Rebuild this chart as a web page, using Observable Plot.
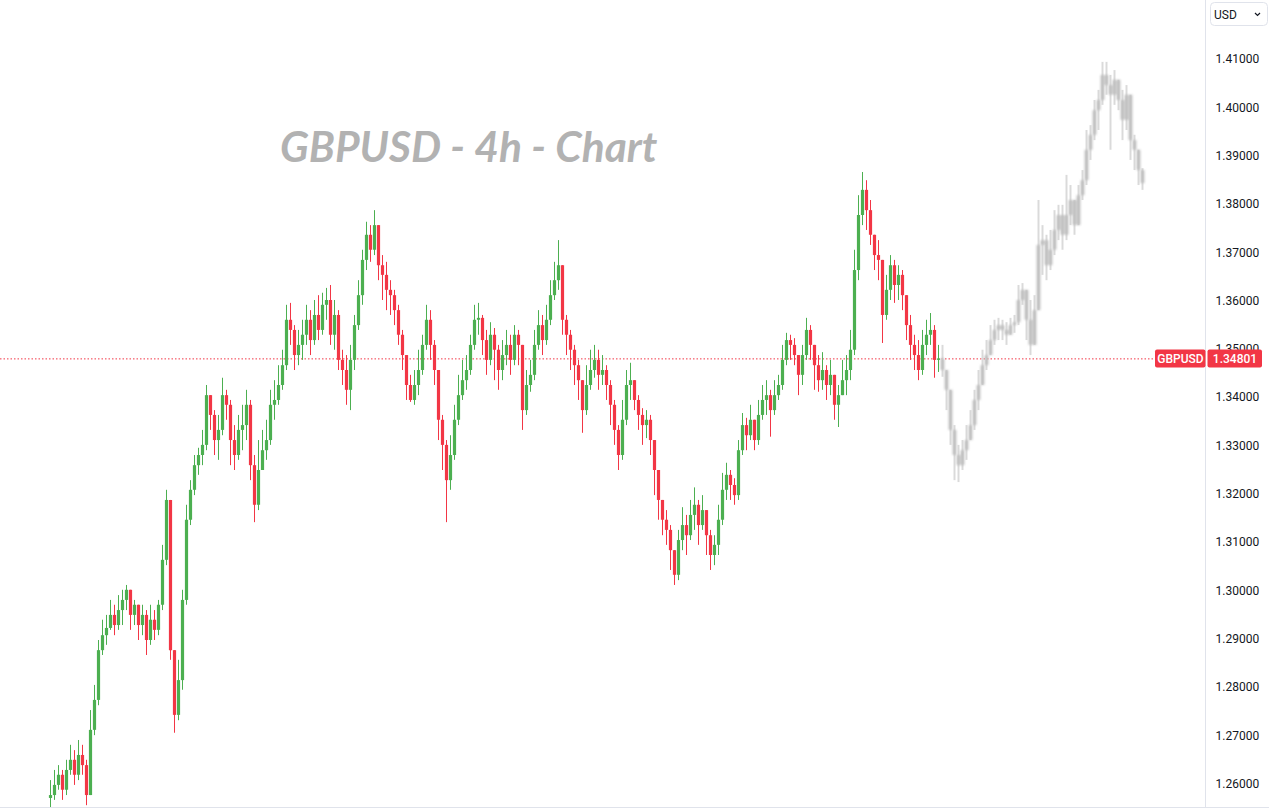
<!DOCTYPE html>
<html>
<head>
<meta charset="utf-8">
<script src="https://cdn.jsdelivr.net/npm/d3@7"></script>
<script src="https://cdn.jsdelivr.net/npm/@observablehq/plot@0.6"></script>
<style>
html, body { margin: 0; padding: 0; background: #ffffff; }
#chart { position: relative; width: 1269px; height: 808px; overflow: hidden; }
#chart svg { display: block; overflow: visible; }
</style>
</head>
<body>
<div id="chart"></div>
<script>
// ---------- data (GBPUSD, 4h candles) ----------
const symbol = "GBPUSD";
const currency = "USD";
const titleText = "GBPUSD - 4h - Chart";
const lastPrice = 1.34801;
const firstOpen = 1.2570;
const yTickValues = [1.26, 1.27, 1.28, 1.29, 1.30, 1.31, 1.32, 1.33, 1.34, 1.35, 1.36, 1.37, 1.38, 1.39, 1.40, 1.41];

const closes = [
  1.2576,1.2597,1.2618,1.2587,1.2628,1.2649,1.2618,1.2659,1.2638,1.2576,
  1.2711,1.2773,1.2876,1.2907,1.2922,1.2949,1.2928,1.2959,1.2980,1.3001,
  1.2949,1.2970,1.2928,1.2949,1.2897,1.2939,1.2918,1.2970,1.3063,1.3187,
  1.2876,1.2742,1.2814,1.2980,1.3146,1.3208,1.3259,1.3280,1.3301,1.3404,
  1.3363,1.3311,1.3332,1.3404,1.3384,1.3311,1.3280,1.3332,1.3342,1.3384,
  1.3259,1.3177,1.3249,1.3290,1.3311,1.3384,1.3394,1.3425,1.3466,1.3560,
  1.3539,1.3487,1.3508,1.3529,1.3560,1.3518,1.3570,1.3539,1.3591,1.3601,
  1.3529,1.3570,1.3477,1.3456,1.3415,1.3477,1.3549,1.3611,1.3684,1.3736,
  1.3705,1.3756,1.3673,1.3653,1.3622,1.3611,1.3580,1.3529,1.3487,1.3425,
  1.3394,1.3425,1.3456,1.3508,1.3560,1.3508,1.3456,1.3353,1.3301,1.3228,
  1.3280,1.3353,1.3404,1.3435,1.3456,1.3508,1.3560,1.3564,1.3518,1.3477,
  1.3529,1.3498,1.3456,1.3487,1.3508,1.3477,1.3529,1.3508,1.3373,1.3425,
  1.3446,1.3508,1.3549,1.3518,1.3560,1.3611,1.3642,1.3673,1.3560,1.3529,
  1.3498,1.3466,1.3435,1.3373,1.3425,1.3456,1.3477,1.3446,1.3456,1.3425,
  1.3384,1.3332,1.3280,1.3353,1.3425,1.3435,1.3394,1.3363,1.3342,1.3353,
  1.3311,1.3249,1.3187,1.3146,1.3125,1.3083,1.3032,1.3104,1.3135,1.3114,
  1.3156,1.3177,1.3135,1.3166,1.3114,1.3073,1.3094,1.3146,1.3208,1.3239,
  1.3218,1.3197,1.3290,1.3342,1.3321,1.3353,1.3311,1.3363,1.3394,1.3404,
  1.3373,1.3404,1.3425,1.3477,1.3518,1.3508,1.3487,1.3446,1.3487,1.3539,
  1.3508,1.3466,1.3435,1.3456,1.3425,1.3446,1.3384,1.3404,1.3435,1.3456,
  1.3498,1.3663,1.3777,1.3829,1.3787,1.3736,1.3694,1.3684,1.3570,1.3622,
  1.3673,1.3632,1.3653,1.3611,1.3549,1.3508,1.3487,1.3456,1.3508,1.3529,
  1.3539,1.3477,1.34801
];
const highs = [
  1.2607,1.2628,1.2638,1.2628,1.2649,1.2680,1.2669,1.2690,1.2680,1.2649,
  1.2752,1.2804,1.2897,1.2939,1.2949,1.2980,1.2970,1.2990,1.3001,1.3011,
  1.3001,1.2980,1.2970,1.2970,1.2959,1.2970,1.2959,1.2980,1.3094,1.3208,
  1.3187,1.2876,1.2856,1.3001,1.3177,1.3228,1.3280,1.3295,1.3332,1.3425,
  1.3404,1.3373,1.3363,1.3440,1.3415,1.3394,1.3342,1.3363,1.3384,1.3415,
  1.3394,1.3280,1.3311,1.3332,1.3353,1.3415,1.3435,1.3466,1.3498,1.3591,
  1.3595,1.3549,1.3539,1.3560,1.3591,1.3580,1.3601,1.3611,1.3616,1.3626,
  1.3632,1.3601,1.3580,1.3498,1.3487,1.3508,1.3570,1.3642,1.3705,1.3763,
  1.3756,1.3787,1.3746,1.3694,1.3680,1.3642,1.3622,1.3591,1.3539,1.3487,
  1.3446,1.3456,1.3498,1.3529,1.3591,1.3580,1.3518,1.3456,1.3363,1.3311,
  1.3321,1.3384,1.3446,1.3477,1.3487,1.3529,1.3591,1.3595,1.3570,1.3539,
  1.3555,1.3543,1.3508,1.3518,1.3539,1.3529,1.3549,1.3539,1.3508,1.3456,
  1.3477,1.3539,1.3580,1.3570,1.3591,1.3642,1.3680,1.3725,1.3673,1.3570,
  1.3539,1.3508,1.3477,1.3435,1.3466,1.3498,1.3508,1.3498,1.3487,1.3466,
  1.3435,1.3394,1.3342,1.3394,1.3456,1.3471,1.3435,1.3404,1.3377,1.3373,
  1.3363,1.3311,1.3249,1.3187,1.3166,1.3135,1.3083,1.3125,1.3172,1.3156,
  1.3187,1.3213,1.3187,1.3197,1.3166,1.3125,1.3114,1.3177,1.3243,1.3264,
  1.3249,1.3232,1.3311,1.3367,1.3357,1.3384,1.3353,1.3394,1.3425,1.3435,
  1.3415,1.3435,1.3446,1.3508,1.3533,1.3529,1.3522,1.3487,1.3508,1.3564,
  1.3549,1.3498,1.3487,1.3493,1.3466,1.3477,1.3446,1.3425,1.3477,1.3487,
  1.3539,1.3705,1.3818,1.3866,1.3849,1.3808,1.3736,1.3725,1.3684,1.3653,
  1.3694,1.3684,1.3673,1.3663,1.3611,1.3570,1.3529,1.3518,1.3539,1.3560,
  1.3574,1.3549,1.3508
];
const lows = [
  1.2551,1.2566,1.2587,1.2566,1.2576,1.2618,1.2597,1.2607,1.2618,1.2555,
  1.2576,1.2700,1.2762,1.2866,1.2887,1.2918,1.2907,1.2918,1.2928,1.2959,
  1.2918,1.2928,1.2897,1.2907,1.2866,1.2887,1.2897,1.2907,1.2959,1.3052,
  1.2856,1.2705,1.2731,1.2794,1.2970,1.3135,1.3197,1.3239,1.3259,1.3290,
  1.3332,1.3280,1.3270,1.3321,1.3353,1.3259,1.3249,1.3270,1.3290,1.3311,
  1.3228,1.3141,1.3166,1.3249,1.3270,1.3301,1.3353,1.3384,1.3415,1.3456,
  1.3508,1.3456,1.3466,1.3477,1.3508,1.3487,1.3508,1.3518,1.3529,1.3560,
  1.3508,1.3498,1.3456,1.3425,1.3384,1.3373,1.3456,1.3539,1.3591,1.3663,
  1.3680,1.3694,1.3642,1.3601,1.3580,1.3570,1.3549,1.3508,1.3456,1.3394,
  1.3390,1.3384,1.3404,1.3446,1.3498,1.3477,1.3425,1.3311,1.3249,1.3141,
  1.3208,1.3270,1.3342,1.3394,1.3415,1.3446,1.3498,1.3529,1.3487,1.3446,
  1.3466,1.3435,1.3415,1.3435,1.3466,1.3446,1.3466,1.3466,1.3332,1.3363,
  1.3411,1.3435,1.3498,1.3487,1.3508,1.3549,1.3601,1.3622,1.3529,1.3487,
  1.3456,1.3425,1.3394,1.3326,1.3363,1.3415,1.3440,1.3415,1.3425,1.3394,
  1.3342,1.3301,1.3249,1.3270,1.3342,1.3394,1.3373,1.3332,1.3301,1.3315,
  1.3280,1.3197,1.3146,1.3114,1.3094,1.3042,1.3011,1.3021,1.3083,1.3073,
  1.3104,1.3125,1.3094,1.3125,1.3073,1.3042,1.3052,1.3073,1.3135,1.3187,
  1.3187,1.3177,1.3187,1.3280,1.3290,1.3311,1.3290,1.3301,1.3353,1.3363,
  1.3318,1.3363,1.3394,1.3415,1.3466,1.3477,1.3466,1.3404,1.3425,1.3477,
  1.3477,1.3415,1.3411,1.3415,1.3394,1.3404,1.3353,1.3338,1.3404,1.3404,
  1.3435,1.3487,1.3642,1.3756,1.3746,1.3715,1.3663,1.3642,1.3512,1.3560,
  1.3601,1.3595,1.3601,1.3580,1.3518,1.3477,1.3456,1.3435,1.3446,1.3487,
  1.3508,1.3440,1.3452
];

// projected (ghost) path shown in grey after the last candle
const projCloses = [
  1.3456,1.3415,1.3332,1.3280,1.3259,1.3290,1.3311,1.3342,1.3394,1.3425,
  1.3466,1.3487,1.3518,1.3539,1.3549,1.3539,1.3529,1.3549,1.3555,1.3601,
  1.3622,1.3560,1.3508,1.3580,1.3715,1.3725,1.3673,1.3705,1.3746,1.3777,
  1.3736,1.3777,1.3808,1.3756,1.3818,1.3849,1.3912,1.3943,1.3994,1.4015,
  1.4067,1.4046,1.4026,1.4057,1.4015,1.3974,1.4026,1.3932,1.3912,1.3870,
  1.3843
];
const projHighs = [
  1.3508,1.3446,1.3415,1.3342,1.3301,1.3311,1.3342,1.3373,1.3415,1.3456,
  1.3498,1.3518,1.3549,1.3560,1.3564,1.3560,1.3555,1.3564,1.3570,1.3632,
  1.3636,1.3611,1.3601,1.3611,1.3808,1.3756,1.3736,1.3746,1.3787,1.3798,
  1.3798,1.3860,1.3839,1.3808,1.3839,1.3870,1.3953,1.3963,1.4015,1.4036,
  1.4094,1.4094,1.4067,1.4077,1.4057,1.4036,1.4046,1.4015,1.3943,1.3891,
  1.3874
];
const projLows = [
  1.3442,1.3373,1.3301,1.3228,1.3224,1.3249,1.3270,1.3311,1.3332,1.3373,
  1.3425,1.3456,1.3487,1.3508,1.3518,1.3518,1.3508,1.3529,1.3533,1.3549,
  1.3591,1.3518,1.3487,1.3529,1.3580,1.3653,1.3642,1.3663,1.3694,1.3725,
  1.3705,1.3725,1.3756,1.3736,1.3777,1.3808,1.3839,1.3891,1.3932,1.3953,
  1.4005,1.4026,1.3912,1.4005,1.3994,1.3932,1.3953,1.3891,1.3870,1.3839,
  1.3829
];

// ---------- build candle tables ----------
const UP = "#4caf50", DOWN = "#f23645";
const candles = closes.map((c, i) => {
  const o = i === 0 ? firstOpen : closes[i - 1];
  return { i, open: o, close: c, high: Math.max(highs[i], o, c), low: Math.min(lows[i], o, c), up: c >= o };
});
const n = closes.length;
const proj = projCloses.map((c, k) => {
  const o = k === 0 ? closes[n - 1] : projCloses[k - 1];
  return { i: n + k, open: o, close: c, high: Math.max(projHighs[k], o, c), low: Math.min(projLows[k], o, c) };
});

const W = 1269, H = 808, MR = 64;

const chart = Plot.plot({
  width: W,
  height: H,
  marginLeft: 0,
  marginRight: MR,
  marginTop: 0,
  marginBottom: 0,
  style: { background: "#ffffff", fontFamily: "Roboto, 'Liberation Sans', sans-serif" },
  x: { domain: [-12.5, 288.75], axis: null },
  y: { domain: [1.25492, 1.42221], axis: null },
  marks: [
    Plot.frame({ anchor: "right", stroke: "#e0e3eb" }),
    Plot.ruleY([lastPrice], { stroke: DOWN, strokeWidth: 1, strokeDasharray: "1.5,2" }),
    Plot.ruleX(proj, { x: "i", y1: "low", y2: "high", stroke: "#d3d3d3", strokeWidth: 2, strokeOpacity: 0.85, imageFilter: "blur(0.6px)" }),
    Plot.ruleX(proj, { x: "i", y1: "open", y2: "close", stroke: "#bdbdbd", strokeWidth: 4, strokeOpacity: 0.85, imageFilter: "blur(0.8px)" }),
    Plot.ruleX(candles, { x: "i", y1: "low", y2: "high", stroke: d => d.up ? UP : DOWN, strokeWidth: 1 }),
    Plot.ruleX(candles, { x: "i", y1: "open", y2: "close", stroke: d => d.up ? UP : DOWN, strokeWidth: 3.2 }),
    Plot.axisY(yTickValues, {
      anchor: "right",
      tickSize: 0,
      tickPadding: 10,
      tickFormat: d => d.toFixed(5),
      fontSize: 12,
      fill: "#131722",
      label: null
    })
  ]
});

document.getElementById("chart").appendChild(chart);

// ---------- overlays drawn into the same SVG ----------
const svg = d3.select(chart);
const yS = chart.scale("y");
const yLast = yS.apply(lastPrice);

// bottom border
svg.append("line").attr("x1", 0).attr("x2", W).attr("y1", H - 0.5).attr("y2", H - 0.5)
  .attr("stroke", "#e0e3eb").attr("stroke-width", 1);

// title
svg.append("text")
  .attr("x", 280).attr("y", 162)
  .attr("text-anchor", "start")
  .attr("font-family", "Lato, 'Open Sans', sans-serif")
  .attr("font-weight", "bold").attr("font-style", "italic")
  .attr("font-size", 42.5)
  .attr("fill", "#b2b2b2")
  .text(titleText);

// symbol + last price labels
const lab = svg.append("g").attr("font-family", "Roboto, 'Liberation Sans', sans-serif").attr("font-size", 12);
lab.append("rect").attr("x", 1155).attr("y", yLast - 9).attr("width", 50.5).attr("height", 18).attr("rx", 2).attr("fill", DOWN);
lab.append("text").attr("x", 1180.5).attr("y", yLast).attr("dy", "0.35em").attr("text-anchor", "middle").attr("fill", "#fff").attr("font-weight", 500).text(symbol);
lab.append("rect").attr("x", 1207.5).attr("y", yLast - 9).attr("width", 54.5).attr("height", 18).attr("rx", 2).attr("fill", DOWN);
lab.append("text").attr("x", 1235).attr("y", yLast).attr("dy", "0.35em").attr("text-anchor", "middle").attr("fill", "#fff").attr("font-weight", 500).text(lastPrice.toFixed(5));

// currency selector box
const cur = svg.append("g").attr("font-family", "Roboto, 'Liberation Sans', sans-serif");
cur.append("rect").attr("x", 1210.5).attr("y", 2.5).attr("width", 57).attr("height", 23).attr("rx", 4)
  .attr("fill", "#fff").attr("stroke", "#e0e3eb");
cur.append("text").attr("x", 1214).attr("y", 18.5).attr("text-anchor", "start").attr("font-size", 12).attr("fill", "#131722").text(currency);
cur.append("path").attr("d", "M1255,13 L1257.5,15.5 L1260,13").attr("fill", "none").attr("stroke", "#131722").attr("stroke-width", 1.2);
</script>
</body>
</html>
